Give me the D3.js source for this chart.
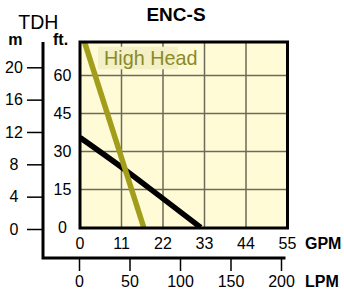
<!DOCTYPE html>
<html>
<head>
<meta charset="utf-8">
<script src="https://cdn.jsdelivr.net/npm/d3@7"></script>
<style>
  html, body { margin: 0; padding: 0; background: #ffffff; }
  svg { display: block; font-family: "Liberation Sans", Arial, Helvetica, sans-serif; }
</style>
</head>
<body>
<svg id="chart" width="344" height="295"></svg>
<script>
// ---- data ----
const title = "ENC-S";
const gpmTicks = [0, 11, 22, 33, 44, 55];
const ftTicks = [0, 15, 30, 45, 60];
const mTicks = [0, 4, 8, 12, 16, 20];
const lpmTicks = [0, 50, 100, 150, 200];
const highHeadGpm = [1.2, 16.9];
const highHeadFt = [73.2, 0];
const standardGpm = [0, 11, 22, 32];
const standardFt = [35.5, 23.8, 11.4, 0];
const seriesLabel = "High Head";

const svg = d3.select("#chart");

const plot = { left: 80, top: 42, right: 287.5, bottom: 228 };

const x = d3.scaleLinear().domain([0, 55]).range([plot.left, plot.right]);
const y = d3.scaleLinear().domain([0, 60]).range([227.5, 75.5]);
const yM = d3.scaleLinear().domain([0, 20]).range([229, 67.3]);
const xL = d3.scaleLinear().domain([0, 200]).range([79, 281]);

// background
svg.append("rect")
  .attr("x", plot.left).attr("y", plot.top)
  .attr("width", plot.right - plot.left).attr("height", plot.bottom - plot.top)
  .attr("fill", "#fffbd6");

// grid
const grid = svg.append("g").attr("stroke", "#6d6a58").attr("stroke-width", 1.5);
gpmTicks.filter(d => d > 0 && d < 55).forEach(d => {
  grid.append("line").attr("x1", x(d)).attr("x2", x(d)).attr("y1", plot.top).attr("y2", plot.bottom);
});
ftTicks.filter(d => d > 0).forEach(d => {
  grid.append("line").attr("x1", plot.left).attr("x2", plot.right).attr("y1", y(d)).attr("y2", y(d));
});

// label box
svg.append("rect").attr("x", 98).attr("y", 46.7).attr("width", 80).attr("height", 22.6).attr("fill", "#f3efc6");
svg.append("text").attr("x", 104).attr("y", 65).attr("font-size", 19.8).attr("fill", "#8b8a25").text(seriesLabel);

// clip
svg.append("clipPath").attr("id", "clip").append("rect")
  .attr("x", plot.left).attr("y", plot.top)
  .attr("width", plot.right - plot.left).attr("height", plot.bottom - plot.top);

const line = d3.line().x(d => x(d[0])).y(d => y(d[1]));
const g = svg.append("g").attr("clip-path", "url(#clip)");
g.append("path").datum(d3.zip(standardGpm, standardFt)).attr("d", line.curve(d3.curveMonotoneX))
  .attr("fill", "none").attr("stroke", "#000").attr("stroke-width", 5.5);
g.append("path").datum(d3.zip(highHeadGpm, highHeadFt)).attr("d", d3.line().x(d => x(d[0])).y(d => y(d[1])))
  .attr("fill", "none").attr("stroke", "#a29d1b").attr("stroke-width", 5.5);

// frame
svg.append("rect")
  .attr("x", plot.left).attr("y", plot.top)
  .attr("width", plot.right - plot.left).attr("height", plot.bottom - plot.top)
  .attr("fill", "none").attr("stroke", "#000").attr("stroke-width", 3);

// GPM labels
svg.append("g").selectAll("text").data(gpmTicks).join("text")
  .attr("x", d => x(d)).attr("y", 249).attr("text-anchor", "middle")
  .attr("font-size", 16).text(d => d);
svg.append("text").attr("x", 305).attr("y", 248.5).attr("font-size", 16).attr("font-weight", "bold").text("GPM");

// ft labels
svg.append("g").selectAll("text").data(ftTicks).join("text")
  .attr("x", 62.5).attr("y", d => y(d)).attr("dy", "0.36em").attr("text-anchor", "middle")
  .attr("font-size", 16).text(d => d);
svg.append("text").attr("x", 53).attr("y", 45).attr("font-size", 16).attr("font-weight", "bold").text("ft.");

// m axis
const mAxis = d3.axisLeft(yM).tickValues(mTicks).tickSize(16).tickPadding(5).tickSizeOuter(0);
const mg = svg.append("g").attr("transform", "translate(43,0)").call(mAxis);
mg.select(".domain").remove();
mg.selectAll(".tick line").attr("stroke", "#000").attr("stroke-width", 1.5);
mg.selectAll(".tick text").attr("font-size", 16).attr("font-family", "Liberation Sans, Arial, sans-serif")
  .attr("text-anchor", "middle").attr("x", -29).attr("fill", "#000");
svg.append("text").attr("x", 8.3).attr("y", 45).attr("font-size", 16).attr("font-weight", "bold").text("m");

// LPM axis
const lAxis = d3.axisBottom(xL).tickValues(lpmTicks).tickSize(13).tickPadding(4).tickSizeOuter(0);
const lg = svg.append("g").attr("transform", "translate(0,258)").call(lAxis);
lg.select(".domain").remove();
lg.selectAll(".tick line").attr("stroke", "#000").attr("stroke-width", 1.5);
lg.selectAll(".tick text").attr("font-size", 16).attr("font-family", "Liberation Sans, Arial, sans-serif")
  .attr("fill", "#000").attr("dy", null).attr("y", 29.3);
svg.append("text").attr("x", 305).attr("y", 287.3).attr("font-size", 16).attr("font-weight", "bold").text("LPM");

// L-shaped axis line
svg.append("path").attr("d", `M43,42V258H285.5`).attr("fill", "none").attr("stroke", "#000").attr("stroke-width", 3);

// TDH & title
svg.append("text").attr("x", 18.3).attr("y", 29.3).attr("font-size", 19.5).text("TDH");
svg.append("text").attr("x", 176).attr("y", 20.7).attr("text-anchor", "middle").attr("font-size", 19).attr("font-weight", "bold").text(title);
</script>
</body>
</html>
